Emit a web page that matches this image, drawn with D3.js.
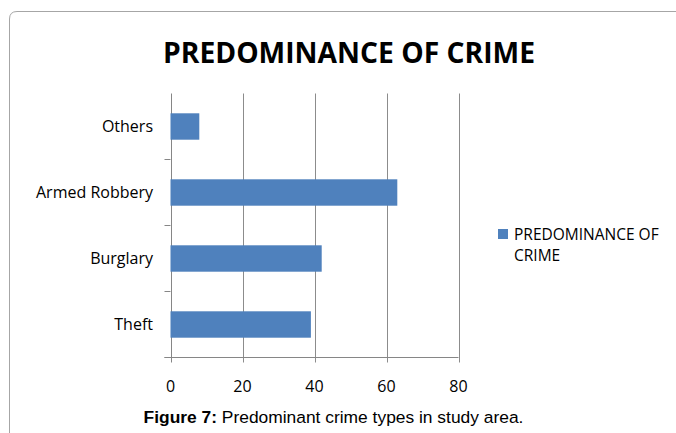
<!DOCTYPE html>
<html>
<head>
<meta charset="utf-8">
<script src="https://cdn.jsdelivr.net/npm/d3@7"></script>
<style>
  html, body { margin: 0; padding: 0; background: #fff; }
  svg { display: block; }
</style>
</head>
<body>
<svg id="chart" width="676" height="433"></svg>
<script>
// Crime categories (bottom to top) and their counts
const categories = ["Theft", "Burglary", "Armed Robbery", "Others"];
const values = [39, 42, 63, 8];
const xTicks = [0, 20, 40, 60, 80];
const chartTitle = "PREDOMINANCE OF CRIME";
const seriesName = ["PREDOMINANCE OF", "CRIME"];

const svg = d3.select("#chart");
const labelFont = "'Open Sans', 'Noto Sans', sans-serif";

// Chart frame: rounded top-left corner, running off the right and bottom edges
svg.append("path")
  .attr("d", "M9.5,433 L9.5,19 Q9.5,11.5 17,11.5 L676,11.5")
  .attr("fill", "none")
  .attr("stroke", "#a6a6a6")
  .attr("stroke-width", 1);

// Title
svg.append("text")
  .attr("x", 349).attr("y", 63)
  .attr("text-anchor", "middle")
  .attr("font-family", labelFont)
  .attr("font-weight", 700)
  .attr("font-size", 28)
  .attr("textLength", 372)
  .attr("lengthAdjust", "spacingAndGlyphs")
  .attr("fill", "#000")
  .text(chartTitle);

const plot = { left: 170.5, right: 458.5, top: 93.5, bottom: 357.5 };

const x = d3.scaleLinear().domain([0, 80]).range([plot.left, plot.right]);
const y = d3.scaleBand()
  .domain(categories)
  .range([plot.bottom, plot.top])
  .paddingInner(0.6)
  .paddingOuter(0.3);

// Vertical gridlines (extending a few pixels below the axis as ticks)
svg.append("g")
  .selectAll("line")
  .data(xTicks)
  .join("line")
  .attr("x1", d => Math.round(x(d)) + 0.5)
  .attr("x2", d => Math.round(x(d)) + 0.5)
  .attr("y1", plot.top)
  .attr("y2", plot.bottom + 5)
  .attr("stroke", d => d === 0 ? "#868686" : "#8c8c8c")
  .attr("stroke-width", 1);

// Category boundary ticks on the vertical axis
const boundaries = categories.map(c => y(c) - y.step() * y.paddingInner() / 2)
  .filter(v => v > plot.top + 1);
boundaries.push(plot.bottom);
svg.append("g")
  .selectAll("line")
  .data(boundaries)
  .join("line")
  .attr("x1", plot.left - 6)
  .attr("x2", plot.left)
  .attr("y1", d => Math.round(d - 0.5) + 0.5)
  .attr("y2", d => Math.round(d - 0.5) + 0.5)
  .attr("stroke", "#868686");

// Horizontal axis line
svg.append("line")
  .attr("x1", plot.left - 6).attr("x2", plot.right)
  .attr("y1", plot.bottom).attr("y2", plot.bottom)
  .attr("stroke", "#868686");

// Bars
svg.append("g")
  .selectAll("rect")
  .data(categories)
  .join("rect")
  .attr("x", x(0))
  .attr("y", d => y(d))
  .attr("width", (d, i) => x(values[i]) - x(0))
  .attr("height", y.bandwidth())
  .attr("fill", "#4f81bd");

// Category labels
svg.append("g")
  .selectAll("text")
  .data(categories)
  .join("text")
  .attr("x", 153)
  .attr("y", d => y(d) + y.bandwidth() / 2 + 5.5)
  .attr("text-anchor", "end")
  .attr("font-family", labelFont)
  .attr("font-size", 16)
  .attr("fill", "#000")
  .text(d => d);

// Value axis labels
svg.append("g")
  .selectAll("text")
  .data(xTicks)
  .join("text")
  .attr("x", d => x(d))
  .attr("y", 392)
  .attr("text-anchor", "middle")
  .attr("font-family", labelFont)
  .attr("font-size", 16)
  .attr("fill", "#000")
  .text(d => d);

// Legend
svg.append("rect")
  .attr("x", 498).attr("y", 229)
  .attr("width", 10).attr("height", 10)
  .attr("fill", "#4f81bd");
svg.append("g")
  .selectAll("text")
  .data(seriesName)
  .join("text")
  .attr("x", 514)
  .attr("y", (d, i) => 240 + i * 21)
  .attr("font-family", labelFont)
  .attr("font-size", 15.5)
  .attr("fill", "#000")
  .text(d => d);

// Figure caption
const cap = svg.append("text")
  .attr("x", 333.5).attr("y", 423)
  .attr("text-anchor", "middle")
  .attr("font-family", "'Liberation Sans', Arial, sans-serif")
  .attr("font-size", 17.4)
  .attr("fill", "#000");
cap.append("tspan").attr("font-weight", 700).text("Figure 7:");
cap.append("tspan").text(" Predominant crime types in study area.");
</script>
</body>
</html>
